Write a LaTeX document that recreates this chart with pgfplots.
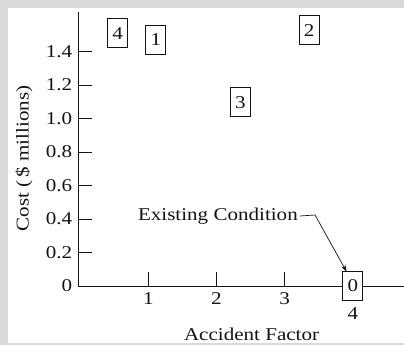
\documentclass[border=0pt]{standalone}
\usepackage{fontspec}
\setmainfont{Liberation Serif}[FakeStretch=1.17]
\usepackage{pgfplots}
\pgfplotsset{compat=1.18}
\usetikzlibrary{arrows.meta}
\definecolor{bg}{RGB}{217,217,217}
\definecolor{ink}{RGB}{20,20,20}
\begin{document}
\fontsize{18bp}{21bp}\selectfont
\begin{tikzpicture}
\fill[bg] (0,0) rectangle (404bp,345bp);
\useasboundingbox (0,0) rectangle (404bp,345bp);
\fill[white] (8bp,2bp) rectangle (404bp,337bp);
\begin{axis}[
  scale only axis,
  width=325.7bp, height=274bp,
  at={(78.3bp,59bp)}, anchor=south west,
  xmin=-0.026, xmax=4.75, ymin=0, ymax=1.636,
  axis x line=bottom, axis y line=left,
  axis line style={-, line width=0.9bp, draw=ink},
  tick align=inside, major tick length=13.5bp,
  tick style={line width=0.9bp, draw=ink},
  xtick={1,2,3}, xticklabels={1,2,3},
  extra x ticks={4}, extra x tick labels={4},
  extra x tick style={xticklabel style={yshift=-15bp}},
  ytick={0,0.2,0.4,0.6,0.8,1.0,1.2,1.4},
  yticklabels={0,0.2,0.4,0.6,0.8,1.0,1.2,1.4},
  /pgf/number format/assume math mode=true,
  tick label style={text=ink},
  xlabel={Accident Factor},
  ylabel={Cost (\,\$ millions)},
  xlabel style={at={(axis description cs:0.532,0)}, anchor=north, yshift=-36bp, text=ink},
  ylabel style={at={(axis description cs:-0.1667,0.465)}, anchor=center, text=ink},
  clip=false,
]
\addplot[draw=none, mark=none, point meta=explicit symbolic, nodes near coords,
  every node near coord/.append style={draw=ink, fill=white, line width=1bp, inner sep=0pt,
    minimum width=20bp, minimum height=29bp, anchor=center, text=ink}]
  table[meta=lab]{
x y lab
4 0 0
1.11 1.47 1
3.36 1.527 2
2.35 1.097 3
0.55 1.51 4
};
\node[anchor=base east, inner sep=0pt, text=ink] at (axis cs:3.195,0.394) {Existing Condition};
\draw[ink, line width=0.7bp, -{Stealth[length=7bp,width=4.5bp]}] (axis cs:3.224,0.418) -- (axis cs:3.445,0.424) -- (axis cs:3.909,0.085);
\end{axis}
\end{tikzpicture}
\end{document}
